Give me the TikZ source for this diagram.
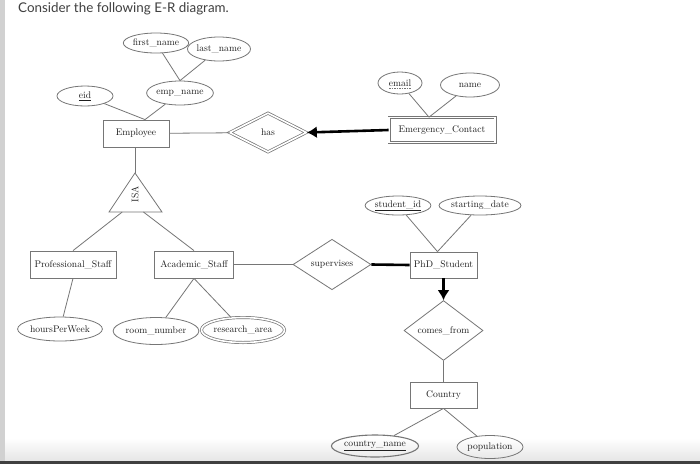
\documentclass[tikz,border=0pt]{standalone}
\usepackage{fontspec}
\newfontfamily\titlefont{Lato}
\usetikzlibrary{shapes.geometric,arrows.meta,calc}
\definecolor{ln}{HTML}{767676}
\definecolor{tx}{HTML}{1E1E1E}
\begin{document}
\begin{tikzpicture}[x=1pt,y=-1pt,
  every node/.style={text=tx,font=\fontsize{9.6}{11}\selectfont,inner sep=0pt},
  attr/.style={ellipse,draw=ln,line width=0.8pt},
  ent/.style={rectangle,draw=ln,line width=0.8pt},
  rel/.style={diamond,draw=ln,line width=0.8pt},
  wk/.style={double=white,double distance=1.6pt,line width=0.7pt},
  conn/.style={draw=ln,line width=0.8pt},
  thick conn/.style={draw=black,line width=2.6pt},
  arr/.style={-{Latex[length=10pt,width=12pt]}}]
\useasboundingbox (0,0) rectangle (700,464);
\fill[white] (0,0) rectangle (700,464);
% screenshot edges
\fill[black!18] (0,0) rectangle (5,461);
\shade[top color=white,bottom color=black!10] (5,438) rectangle (700,461);
\fill[black!75] (0,461) rectangle (700,464);
% title
\node[anchor=base west,font=\titlefont\fontsize{13.4}{15}\selectfont,text=black!75] (title) at (18,12.5) {Consider the following E-R diagram.};
% Employee part
\node[attr,minimum width=53pt,minimum height=20pt] (first) at (156,43) {first\_name};
\node[attr,minimum width=59pt,minimum height=24pt] (last) at (219,49) {last\_name};
\node[attr,minimum width=57pt,minimum height=24pt] (empname) at (180,93) {emp\_name};
\node[attr,minimum width=56pt,minimum height=20pt] (eid) at (85,96) {\underline{eid}};
\node[ent,minimum width=66pt,minimum height=27pt] (emp) at (136,133.5) {Employee};
\node[rel,wk,minimum width=77pt,minimum height=39pt] (has) at (268,132.5) {has};
\node[attr,minimum width=44pt,minimum height=22pt] (email) at (400,83) {email};
\draw[ln,line width=0.5pt,dash pattern=on 1.5pt off 1pt] ($(email.center)+(-11,5.5)$) -- ($(email.center)+(11,5.5)$);
\node[attr,minimum width=59pt,minimum height=24pt] (ename) at (470,85) {name};
\node[ent,wk,minimum width=106pt,minimum height=25pt] (ec) at (442,130) {Emergency\_Contact};
\draw[conn] (first) -- (empname.north);
\draw[conn] (last) -- (empname.north);
\draw[conn] (eid) -- ([xshift=9pt]emp.north);
\draw[conn] (empname) -- ([xshift=9pt]emp.north);
\draw[conn] (email) -- ([xshift=-13pt]ec.north);
\draw[conn] (ename) -- ([xshift=-13pt]ec.north);
\draw[conn] (emp) -- (has);
\draw[thick conn,arr] (ec.west) -- (has.east);
% ISA
\coordinate (isaTop) at (135,173);
\coordinate (isaL) at (109,212);
\coordinate (isaR) at (162,212);
\draw[conn] (isaTop) -- (isaL) -- (isaR) -- cycle;
\node[rotate=90] (isa) at (135,194) {ISA};
\draw[conn] (emp.south -| isaTop) -- (isaTop);
\node[ent,minimum width=86pt,minimum height=27pt] (pstaff) at (73,264.5) {Professional\_Staff};
\node[ent,minimum width=79pt,minimum height=27pt] (astaff) at (194,264.5) {Academic\_Staff};
\draw[conn] ($(isaL)!0.25!(isaR)$) -- (pstaff.north);
\draw[conn] ($(isaL)!0.65!(isaR)$) -- (astaff.north);
\node[attr,minimum width=70pt,minimum height=24pt] (hpw) at (60,329) {hoursPerWeek};
\node[attr,minimum width=68pt,minimum height=27pt] (room) at (156,331) {room\_number};
\node[attr,wk,minimum width=68pt,minimum height=25pt] (research) at (243,330) {research\_area};
\draw[conn] (pstaff.south) -- (hpw);
\draw[conn] (astaff.south) -- (room);
\draw[conn] (astaff.south) -- (research);
% supervises / PhD
\node[rel,minimum width=78pt,minimum height=39pt] (sup) at (332,264.5) {supervises};
\node[ent,minimum width=67pt,minimum height=26pt] (phd) at (443.5,265) {PhD\_Student};
\draw[conn] (astaff) -- (sup);
\draw[thick conn] (sup.east) -- (phd.west);
\node[attr,minimum width=59pt,minimum height=19pt] (sid) at (398,205.5) {\underline{student\_id}};
\node[attr,minimum width=66pt,minimum height=19pt] (sdate) at (480,205.5) {starting\_date};
\draw[conn] (sid) -- ([xshift=-6pt]phd.north);
\draw[conn] (sdate) -- ([xshift=-6pt]phd.north);
\node[rel,minimum width=79pt,minimum height=39pt] (comes) at (443.5,330.5) {comes\_from};
\draw[thick conn,arr] (phd.south) -- (comes.north);
\node[ent,minimum width=67pt,minimum height=26pt] (country) at (443.5,395) {Country};
\draw[conn] (comes) -- (country);
\node[attr,minimum width=65pt,minimum height=22pt,line width=1.1pt] (cname) at (375,446) {\underline{country\_name}};
\node[attr,minimum width=66pt,minimum height=23pt] (pop) at (490,447) {population};
\draw[conn] (country.south) -- (cname);
\draw[conn] (country.south) -- (pop);
\end{tikzpicture}
\end{document}
